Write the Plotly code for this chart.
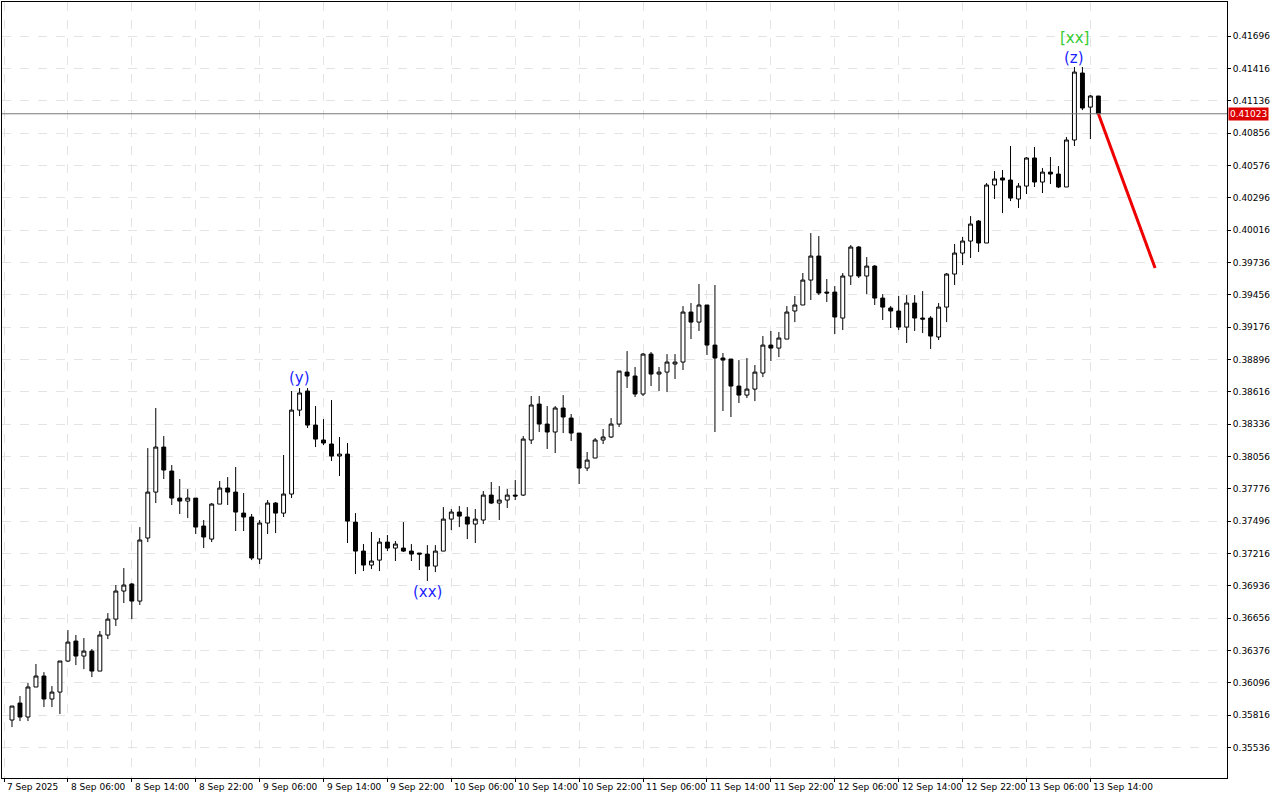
import plotly.graph_objects as go

opens = [0.35773,0.35920,0.35799,0.36059,0.36154,0.35955,0.36015,0.36284,0.36457,0.36327,0.36370,0.36197,0.36509,0.36647,0.36890,0.36951,0.36803,0.37349,0.37747,0.38137,0.37929,0.37695,0.37669,0.37695,0.37453,0.37340,0.37643,0.37782,0.37747,0.37565,0.37531,0.37167,0.37479,0.37652,0.37565,0.37730,0.38457,0.38622,0.38327,0.38198,0.38163,0.38059,0.38076,0.37487,0.37236,0.37115,0.37158,0.37314,0.37262,0.37262,0.37236,0.37219,0.37210,0.37106,0.37236,0.37513,0.37574,0.37531,0.37470,0.37505,0.37721,0.37652,0.37678,0.37721,0.37721,0.38198,0.38509,0.38336,0.38267,0.38475,0.38388,0.38258,0.37955,0.38042,0.38198,0.38224,0.38336,0.38786,0.38752,0.38596,0.38942,0.38769,0.38786,0.38856,0.38873,0.39306,0.39219,0.39367,0.39020,0.38908,0.38899,0.38665,0.38587,0.38639,0.38778,0.39020,0.38994,0.39072,0.39315,0.39367,0.39583,0.39791,0.39479,0.39479,0.39254,0.39618,0.39869,0.39618,0.39704,0.39427,0.39341,0.39315,0.39176,0.39384,0.39254,0.39254,0.39090,0.39349,0.39635,0.39817,0.39921,0.40094,0.39904,0.40406,0.40467,0.40449,0.40285,0.40397,0.40640,0.40432,0.40518,0.40501,0.40389,0.40796,0.41376,0.41081,0.41177]
closes = [0.35894,0.35799,0.36059,0.36154,0.35955,0.36015,0.36284,0.36448,0.36327,0.36370,0.36197,0.36509,0.36647,0.36890,0.36942,0.36803,0.37332,0.37747,0.38137,0.37938,0.37695,0.37669,0.37695,0.37444,0.37358,0.37643,0.37782,0.37747,0.37574,0.37531,0.37176,0.37479,0.37652,0.37565,0.37730,0.38457,0.38605,0.38327,0.38206,0.38172,0.38059,0.38076,0.37496,0.37236,0.37115,0.37150,0.37314,0.37262,0.37297,0.37236,0.37210,0.37210,0.37106,0.37236,0.37513,0.37574,0.37539,0.37470,0.37513,0.37721,0.37652,0.37678,0.37721,0.37713,0.38206,0.38501,0.38336,0.38267,0.38475,0.38397,0.38258,0.37955,0.38024,0.38198,0.38224,0.38336,0.38795,0.38752,0.38596,0.38942,0.38769,0.38786,0.38873,0.38873,0.39306,0.39219,0.39367,0.39020,0.38908,0.38890,0.38665,0.38587,0.38639,0.38786,0.39020,0.38994,0.39081,0.39306,0.39367,0.39583,0.39791,0.39471,0.39471,0.39263,0.39618,0.39869,0.39618,0.39704,0.39427,0.39349,0.39315,0.39176,0.39384,0.39254,0.39245,0.39098,0.39349,0.39635,0.39817,0.39921,0.40068,0.39904,0.40406,0.40458,0.40449,0.40293,0.40397,0.40640,0.40432,0.40518,0.40501,0.40389,0.40796,0.41384,0.41073,0.41177,0.41023]
highs = [0.35894,0.35981,0.36093,0.36258,0.36188,0.36067,0.36284,0.36552,0.36509,0.36483,0.36388,0.36544,0.36699,0.36942,0.37089,0.36959,0.37444,0.38128,0.38475,0.38232,0.37981,0.37860,0.37773,0.37695,0.37505,0.37652,0.37843,0.37877,0.37964,0.37739,0.37557,0.37505,0.37678,0.37661,0.38068,0.38622,0.38648,0.38648,0.38492,0.38379,0.38544,0.38224,0.38172,0.37565,0.37297,0.37401,0.37349,0.37375,0.37323,0.37487,0.37297,0.37219,0.37288,0.37288,0.37617,0.37600,0.37626,0.37617,0.37600,0.37756,0.37834,0.37799,0.37773,0.37851,0.38232,0.38579,0.38579,0.38492,0.38492,0.38587,0.38423,0.38258,0.38094,0.38215,0.38293,0.38388,0.38795,0.38968,0.38830,0.38951,0.38960,0.38830,0.38942,0.38942,0.39358,0.39384,0.39549,0.39367,0.39540,0.38951,0.38899,0.38890,0.38908,0.38847,0.39098,0.39142,0.39133,0.39358,0.39445,0.39644,0.39990,0.39964,0.39592,0.39531,0.39644,0.39886,0.39878,0.39782,0.39713,0.39462,0.39358,0.39445,0.39453,0.39453,0.39488,0.39271,0.39384,0.39644,0.39895,0.39956,0.40137,0.40103,0.40423,0.40527,0.40536,0.40744,0.40423,0.40648,0.40735,0.40553,0.40648,0.40570,0.40822,0.41428,0.41428,0.41185,0.41177]
lows = [0.35712,0.35764,0.35764,0.36059,0.35885,0.35885,0.35825,0.36275,0.36249,0.36214,0.36145,0.36197,0.36474,0.36587,0.36786,0.36647,0.36769,0.37314,0.37652,0.37860,0.37635,0.37557,0.37522,0.37384,0.37262,0.37314,0.37643,0.37635,0.37410,0.37410,0.37158,0.37124,0.37384,0.37392,0.37531,0.37695,0.38405,0.38302,0.38137,0.38154,0.38016,0.37886,0.37306,0.37037,0.37063,0.37080,0.37063,0.37236,0.37150,0.37228,0.37150,0.37072,0.36977,0.37054,0.37236,0.37418,0.37444,0.37340,0.37306,0.37470,0.37643,0.37505,0.37609,0.37678,0.37713,0.38163,0.38267,0.38120,0.38085,0.38258,0.38189,0.37817,0.37929,0.38042,0.38163,0.38215,0.38310,0.38648,0.38570,0.38579,0.38665,0.38622,0.38613,0.38726,0.38804,0.39072,0.39142,0.38934,0.38267,0.38449,0.38397,0.38518,0.38561,0.38535,0.38743,0.38882,0.38916,0.39072,0.39219,0.39367,0.39410,0.39453,0.39393,0.39116,0.39150,0.39540,0.39601,0.39462,0.39367,0.39237,0.39168,0.39150,0.39038,0.39142,0.39124,0.38986,0.39064,0.39219,0.39540,0.39713,0.39774,0.39826,0.39904,0.40285,0.40163,0.40267,0.40207,0.40328,0.40389,0.40337,0.40415,0.40380,0.40389,0.40744,0.41055,0.40804,0.41029]

x_labels = ["7 Sep 2025","8 Sep 06:00","8 Sep 14:00","8 Sep 22:00","9 Sep 06:00","9 Sep 14:00","9 Sep 22:00",
            "10 Sep 06:00","10 Sep 14:00","10 Sep 22:00","11 Sep 06:00","11 Sep 14:00","11 Sep 22:00",
            "12 Sep 06:00","12 Sep 14:00","12 Sep 22:00","13 Sep 06:00","13 Sep 14:00"]
x_label_pos = [-1,7,15,23,31,39,47,55,63,71,79,87,95,103,111,119,127,135]
y_ticks = [0.35536,0.35816,0.36096,0.36376,0.36656,0.36936,0.37216,0.37496,0.37776,0.38056,0.38336,0.38616,
           0.38896,0.39176,0.39456,0.39736,0.40016,0.40296,0.40576,0.40856,0.41136,0.41416,0.41696]
current_price = 0.41023
forecast_x = [136, 143.1]
forecast_y = [0.41023, 0.39687]
wave_labels = [("(y)", 36, 0.38640, "#1f1fff"), ("(xx)", 52, 0.36975, "#1f1fff"),
               ("(z)", 133, 0.41415, "#1f1fff"), ("[xx]", 133, 0.41585, "#33cc33")]

idx = list(range(len(opens)))
fig = go.Figure()
fig.add_trace(go.Candlestick(
    x=idx, open=opens, high=highs, low=lows, close=closes,
    increasing=dict(line=dict(color="black", width=1), fillcolor="white"),
    decreasing=dict(line=dict(color="black", width=1), fillcolor="black"),
    whiskerwidth=0, showlegend=False, hoverinfo="skip"))
fig.add_trace(go.Scatter(x=forecast_x, y=forecast_y, mode="lines",
                         line=dict(color="#ee0000", width=3), showlegend=False, hoverinfo="skip"))
fig.add_hline(y=current_price, line=dict(color="#777777", width=1))
for t, xi, yi, c in wave_labels:
    fig.add_annotation(x=xi, y=yi, text=t, showarrow=False, font=dict(color=c, size=15, family="DejaVu Sans"),
                       yanchor="bottom" if t != "(xx)" else "top")
for lbl, pos in zip(x_labels, x_label_pos):
    fig.add_annotation(x=pos, y=0, yref="paper", text=lbl, showarrow=False, xanchor="left", yanchor="top",
                       yshift=-2, xshift=1, font=dict(size=9, family="DejaVu Sans", color="black"))
fig.add_annotation(x=1, xref="paper", y=current_price, text=f"{current_price:.5f}", showarrow=False,
                   xanchor="left", bgcolor="#dd0000", font=dict(color="white", size=9, family="DejaVu Sans"),
                   borderpad=1, xshift=1)

fig.update_layout(
    width=1280, height=800, margin=dict(l=2, r=53, t=2, b=22),
    paper_bgcolor="white", plot_bgcolor="white",
    font=dict(family="DejaVu Sans", size=9, color="black"),
    xaxis=dict(range=[-1.25, 152.1], rangeslider=dict(visible=False), tickmode="array",
               tickvals=x_label_pos, ticktext=["" for _ in x_labels], showgrid=True, gridcolor="#e4e4e4", griddash="dash",
               showline=True, linecolor="black", mirror=True, ticks="outside", ticklen=3, tickcolor="black",
               zeroline=False),
    yaxis=dict(range=[0.35271, 0.41991], side="right", tickmode="array", tickvals=y_ticks,
               ticktext=[f"{v:.5f}" for v in y_ticks], showgrid=True, gridcolor="#e4e4e4", griddash="dash",
               showline=True, linecolor="black", mirror=True, ticks="outside", ticklen=3, tickcolor="black",
               zeroline=False, tickfont=dict(size=9)),
)
fig.write_html("out.html", config={"displayModeBar": False})
with open("out.html", encoding="utf-8") as f:
    html = f.read()
html = html.replace("<body>", '<body style="margin:0;padding:0;overflow:hidden">', 1)
with open("out.html", "w", encoding="utf-8") as f:
    f.write(html)
